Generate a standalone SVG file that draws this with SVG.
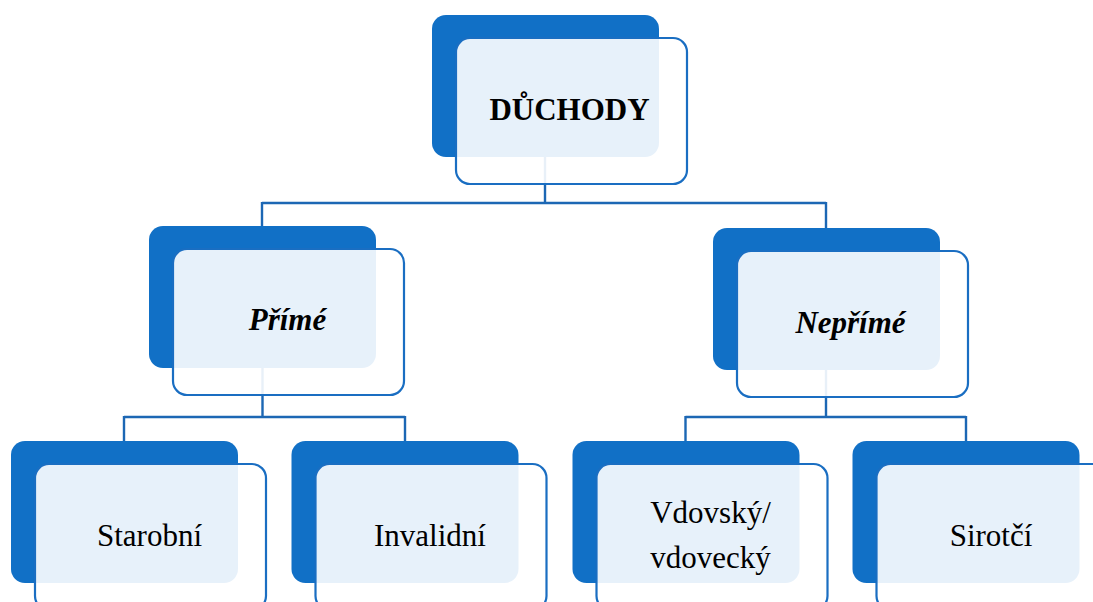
<svg xmlns="http://www.w3.org/2000/svg" width="1093" height="602" viewBox="0 0 1093 602">
<style>
.back{fill:#1170C6;}
.front{fill:#ffffff;fill-opacity:0.9;stroke:#1A6EC2;stroke-width:2.2;}
.conn{fill:none;stroke:#1C67B4;stroke-width:2.4;}
.t{font-family:"Liberation Serif","Times New Roman",serif;font-size:31px;fill:#000;text-anchor:middle;}
.b{font-weight:bold;}
.bi{font-weight:bold;font-style:italic;}
</style>
<rect width="1093" height="602" fill="#ffffff"/>
<g id="connectors">
<path class="conn" d="M545,157 V203 M262,203 H826 M262,202 V227 M826,202 V228"/>
<path class="conn" d="M262.5,368 V417 M124,417 H405 M124,416 V441 M405,416 V441"/>
<path class="conn" d="M826,370 V417 M685.5,417 H966 M685.5,416 V441 M966,416 V441"/>
</g>
<g id="node-duchody">
<rect class="back" x="432" y="15" width="227" height="142" rx="14"/>
<rect class="front" x="456" y="38" width="231" height="146" rx="14"/>
<text class="t b" x="569.5" y="120">DŮCHODY</text>
</g>
<g id="node-prime">
<rect class="back" x="149" y="226" width="227" height="142" rx="14"/>
<rect class="front" x="173" y="249" width="231" height="146" rx="14"/>
<text class="t bi" x="287.5" y="330">Přímé</text>
</g>
<g id="node-neprime">
<rect class="back" x="713" y="228" width="227" height="142" rx="14"/>
<rect class="front" x="737" y="251" width="231" height="146" rx="14"/>
<text class="t bi" x="850.5" y="332.5">Nepřímé</text>
</g>
<g id="node-starobni">
<rect class="back" x="11" y="441" width="227" height="142" rx="14"/>
<rect class="front" x="35" y="464" width="231" height="146" rx="14"/>
<text class="t" x="149.5" y="546">Starobní</text>
</g>
<g id="node-invalidni">
<rect class="back" x="291.5" y="441" width="227" height="142" rx="14"/>
<rect class="front" x="315.5" y="464" width="231" height="146" rx="14"/>
<text class="t" x="430" y="546">Invalidní</text>
</g>
<g id="node-vdovsky">
<rect class="back" x="572.5" y="441" width="227" height="142" rx="14"/>
<rect class="front" x="596.5" y="464" width="231" height="146" rx="14"/>
<text class="t" x="710.5" y="523">Vdovský/</text>
<text class="t" x="710.5" y="568">vdovecký</text>
</g>
<g id="node-sirotci">
<rect class="back" x="852.5" y="441" width="227" height="142" rx="14"/>
<rect class="front" x="876.5" y="464" width="231" height="146" rx="14"/>
<text class="t" x="991" y="546">Sirotčí</text>
</g>
</svg>
